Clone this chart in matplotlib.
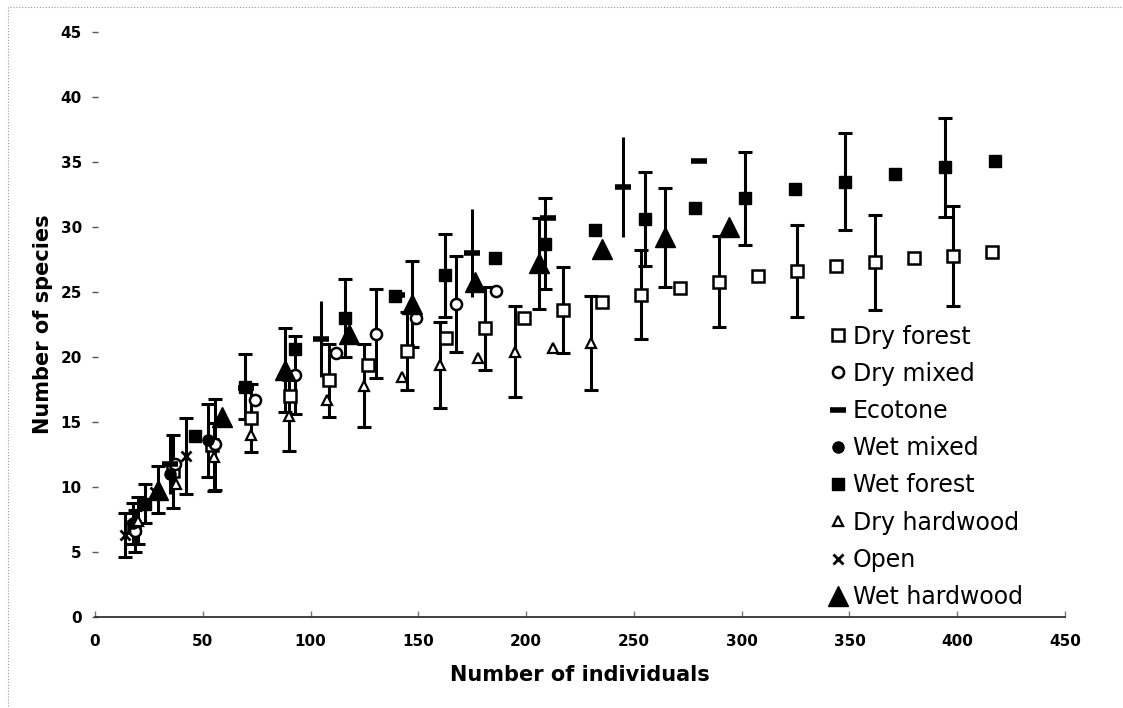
import numpy as np
import matplotlib.pyplot as plt
from matplotlib.patches import Rectangle

nan = np.nan

# Dry forest
dry_forest_x = [18.1, 36.2, 54.3, 72.4, 90.5, 108.6, 126.7, 144.8, 162.9, 181.0, 199.1, 217.2,
                235.3, 253.4, 271.5, 289.6, 307.7, 325.8, 343.9, 362.0, 380.1, 398.2, 416.3]
dry_forest_y = [6.9, 11.2, 13.2, 15.3, 17.0, 18.2, 19.4, 20.5, 21.5, 22.2, 23.0, 23.6,
                24.2, 24.8, 25.3, 25.8, 26.2, 26.6, 27.0, 27.3, 27.6, 27.8, 28.1]
dry_forest_err = [nan, 2.8, nan, 2.6, nan, 2.8, nan, 3.0, nan, 3.2, nan, 3.3,
                  nan, 3.4, nan, 3.5, nan, 3.55, nan, 3.65, nan, 3.85, nan]

# Dry mixed
dry_mixed_x = [18.6, 37.2, 55.8, 74.4, 93.0, 111.6, 130.2, 148.8, 167.4, 186.0]
dry_mixed_y = [6.6, 11.8, 13.3, 16.7, 18.6, 20.3, 21.8, 23.0, 24.1, 25.1]
dry_mixed_err = [1.6, nan, 3.5, nan, 3.0, nan, 3.4, nan, 3.7, nan]

# Ecotone
ecotone_x = [35, 70, 105, 140, 175, 210, 245, 280]
ecotone_y = [11.8, 17.6, 21.4, 24.8, 28.0, 30.7, 33.1, 35.1]
ecotone_err = [2.3, nan, 2.9, nan, 3.4, nan, 3.85, nan]

# Wet mixed
wet_mixed_x = [17.5, 35.0, 52.5]
wet_mixed_y = [7.2, 11.0, 13.6]
wet_mixed_err = [1.6, nan, 2.8]

# Wet forest
wet_forest_x = [23.2, 46.4, 69.6, 92.8, 116.0, 139.2, 162.4, 185.6, 208.8, 232.0, 255.2, 278.4,
                301.6, 324.8, 348.0, 371.2, 394.4, 417.6]
wet_forest_y = [8.7, 13.9, 17.7, 20.6, 23.0, 24.7, 26.3, 27.6, 28.7, 29.8, 30.6, 31.5,
                32.2, 32.9, 33.5, 34.1, 34.6, 35.1]
wet_forest_err = [1.5, nan, 2.5, nan, 3.0, nan, 3.2, nan, 3.5, nan, 3.6, nan,
                  3.6, nan, 3.75, nan, 3.8, nan]

# Dry hardwood
dry_hardwood_x = [20.0, 37.5, 55.0, 72.5, 90.0, 107.5, 125.0, 142.5, 160.0, 177.5, 195.0, 212.5, 230.0]
dry_hardwood_y = [7.4, 10.2, 12.3, 14.0, 15.5, 16.7, 17.8, 18.5, 19.4, 19.9, 20.4, 20.7, 21.1]
dry_hardwood_err = [1.8, nan, 2.6, nan, 2.7, nan, 3.2, nan, 3.3, nan, 3.5, nan, 3.6]

# Open
open_x = [14, 28, 42]
open_y = [6.3, 9.6, 12.4]
open_err = [1.7, nan, 2.9]

# Wet hardwood
wet_hardwood_x = [29.4, 58.8, 88.2, 117.6, 147.0, 176.4, 205.8, 235.2, 264.6, 294.0]
wet_hardwood_y = [9.8, 15.4, 19.0, 21.8, 24.1, 25.8, 27.2, 28.3, 29.2, 30.0]
wet_hardwood_err = [1.8, nan, 3.2, nan, 3.3, nan, 3.5, nan, 3.8, nan]

series = [
    ("Dry forest", dry_forest_x, dry_forest_y, dry_forest_err,
     dict(marker='s', ms=8, mfc='white', mec='black', mew=1.8), 5),
    ("Dry mixed", dry_mixed_x, dry_mixed_y, dry_mixed_err,
     dict(marker='o', ms=8, mfc='white', mec='black', mew=1.8), 5),
    ("Ecotone", ecotone_x, ecotone_y, ecotone_err,
     dict(marker='_', ms=11, mec='black', mew=4), 0),
    ("Wet mixed", wet_mixed_x, wet_mixed_y, wet_mixed_err,
     dict(marker='o', ms=8, mfc='black', mec='black'), 5),
    ("Wet forest", wet_forest_x, wet_forest_y, wet_forest_err,
     dict(marker='s', ms=9, mfc='black', mec='black'), 5),
    ("Dry hardwood", dry_hardwood_x, dry_hardwood_y, dry_hardwood_err,
     dict(marker='^', ms=7, mfc='white', mec='black', mew=1.6), 5),
    ("Open", open_x, open_y, open_err,
     dict(marker='x', ms=7, mec='black', mew=2), 5),
    ("Wet hardwood", wet_hardwood_x, wet_hardwood_y, wet_hardwood_err,
     dict(marker='^', ms=14, mfc='black', mec='black'), 5),
]

fig = plt.figure(figsize=(11.23, 7.08), dpi=100)
ax = fig.add_axes([0.0846, 0.1285, 0.8638, 0.8263])

handles = []
for name, x, y, err, style, cap in series:
    ax.errorbar(x, y, yerr=err, fmt='none', ecolor='black', elinewidth=2.2,
                capsize=cap, capthick=2.2, zorder=2)
    h, = ax.plot(x, y, linestyle='none', label=name, zorder=3, **style)
    handles.append(h)

ax.set_xlim(0, 450)
ax.set_ylim(0, 45)
ax.set_xticks(np.arange(0, 451, 50))
ax.set_yticks(np.arange(0, 46, 5))

for s in ['top', 'right', 'left']:
    ax.spines[s].set_visible(False)
ax.spines['bottom'].set_color('#333333')
ax.spines['bottom'].set_linewidth(1.3)

ax.tick_params(axis='y', direction='inout', length=5, width=1, color='#555555', pad=7)
ax.tick_params(axis='x', direction='in', length=4, width=1, color='#777777', pad=12)
for lab in ax.get_xticklabels() + ax.get_yticklabels():
    lab.set_fontweight('bold')
    lab.set_fontsize(11)

ax.set_xlabel("Number of individuals", fontsize=15, fontweight='bold', labelpad=12)
ax.set_ylabel("Number of species", fontsize=15, fontweight='bold', labelpad=5)

ax.legend(handles=handles, loc='upper left', bbox_to_anchor=(0.757, 0.5),
          frameon=False, fontsize=17, handlelength=0.7, handletextpad=0.3,
          labelspacing=0.56, borderaxespad=0, borderpad=0)

# faint scanned chart-area border
fig.patches.append(Rectangle((0.007, -0.01), 1.0, 1.0, transform=fig.transFigure,
                             fill=False, edgecolor='#999999', linestyle=':', linewidth=0.8))

fig.savefig("out.png", dpi=100)
